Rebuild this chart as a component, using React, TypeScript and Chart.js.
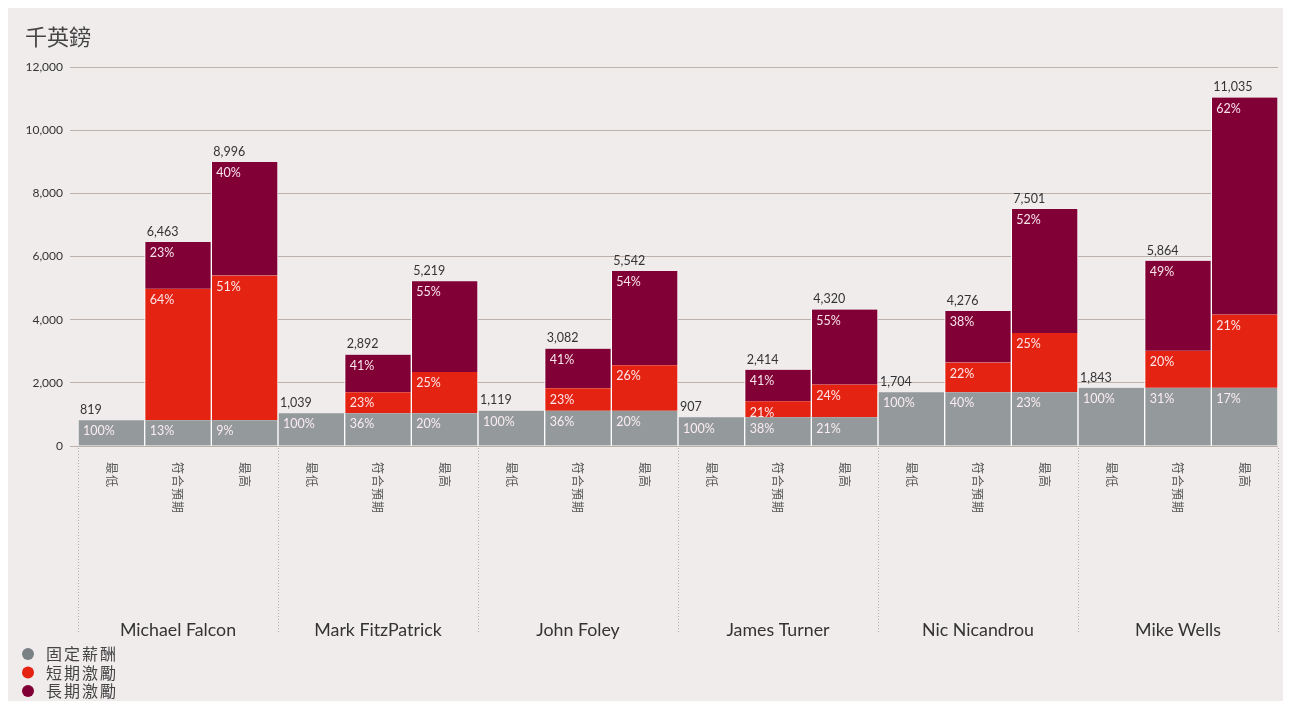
import React, { useEffect, useRef } from "react";
import { Chart, registerables } from "chart.js";
Chart.register(...registerables);

const unitTitle = "千英鎊";
const people = ["Michael Falcon", "Mark FitzPatrick", "John Foley", "James Turner", "Nic Nicandrou", "Mike Wells"];
const scenarios = ["最低", "符合預期", "最高"];
const seriesNames = ["固定薪酬", "短期激勵", "長期激勵"];
const seriesColors = ["#949a9c", "#e42313", "#810036"];
const legendDotColors = ["#798184", "#e42313", "#810036"];

const fixedPay = [819, 819, 819, 1039, 1039, 1039, 1119, 1119, 1119, 907, 907, 907, 1704, 1704, 1704, 1843, 1843, 1843];
const shortTerm = [0, 4158, 4579, 0, 665, 1305, 0, 709, 1441, 0, 507, 1037, 0, 941, 1875, 0, 1173, 2317];
const longTerm = [0, 1486, 3598, 0, 1188, 2875, 0, 1254, 2982, 0, 1000, 2376, 0, 1631, 3922, 0, 2848, 6875];

const totalLabels = ["819", "6,463", "8,996", "1,039", "2,892", "5,219", "1,119", "3,082", "5,542", "907", "2,414", "4,320", "1,704", "4,276", "7,501", "1,843", "5,864", "11,035"];
const fixedPct = ["100%", "13%", "9%", "100%", "36%", "20%", "100%", "36%", "20%", "100%", "38%", "21%", "100%", "40%", "23%", "100%", "31%", "17%"];
const shortPct = ["", "64%", "51%", "", "23%", "25%", "", "23%", "26%", "", "21%", "24%", "", "22%", "25%", "", "20%", "21%"];
const longPct = ["", "23%", "40%", "", "41%", "55%", "", "41%", "54%", "", "41%", "55%", "", "38%", "52%", "", "49%", "62%"];

const LATIN = "Lato, 'Noto Sans CJK TC', sans-serif";
const CJK = "'Noto Sans CJK TC', 'Noto Sans', sans-serif";

export default function App() {
  const ref = useRef<HTMLCanvasElement | null>(null);
  useEffect(() => {
    if (!ref.current) return;
    const labels: string[] = [];
    people.forEach((p) => scenarios.forEach((s) => labels.push(p + "|" + s)));
    const pctLists = [fixedPct, shortPct, longPct];

    const overlay = {
      id: "overlay",
      afterDatasetsDraw(chart: any) {
        const ctx = chart.ctx as CanvasRenderingContext2D;
        const area = chart.chartArea;
        const xs = chart.scales.x;
        ctx.save();
        // percentage labels
        ctx.font = "12.5px " + LATIN;
        ctx.textAlign = "left";
        ctx.textBaseline = "top";
        ctx.fillStyle = "rgba(255,240,244,0.95)";
        for (let d = 0; d < 3; d++) {
          const meta = chart.getDatasetMeta(d);
          meta.data.forEach((el: any, j: number) => {
            const txt = pctLists[d][j];
            if (!txt) return;
            ctx.fillText(txt, el.x - el.width / 2 + 5, el.y + 5);
          });
        }
        // totals
        ctx.font = "12.5px " + LATIN;
        ctx.fillStyle = "#333333";
        ctx.textBaseline = "bottom";
        for (let j = 0; j < labels.length; j++) {
          let topY = Infinity;
          let left = 0;
          for (let d = 0; d < 3; d++) {
            const el: any = chart.getDatasetMeta(d).data[j];
            const v = chart.data.datasets[d].data[j];
            if (v > 0 && el.y < topY) {
              topY = el.y;
              left = el.x - el.width / 2;
            }
          }
          ctx.fillText(totalLabels[j], left + 2, topY - 4);
        }
        // dotted separators
        const catW = (area.right - area.left) / labels.length;
        ctx.strokeStyle = "#b3aba8";
        ctx.lineWidth = 1;
        ctx.setLineDash([1, 2]);
        for (let k = 0; k <= people.length; k++) {
          const x = Math.round(area.left + k * 3 * catW) + 0.5;
          ctx.beginPath();
          ctx.moveTo(x, area.bottom + 2);
          ctx.lineTo(x, 624);
          ctx.stroke();
        }
        ctx.setLineDash([]);
        // rotated scenario labels
        ctx.fillStyle = "#555555";
        ctx.font = "12px " + CJK;
        (ctx as any).letterSpacing = "1px";
        ctx.textAlign = "left";
        ctx.textBaseline = "middle";
        for (let j = 0; j < labels.length; j++) {
          const x = xs.getPixelForValue(j);
          ctx.save();
          ctx.translate(x, area.bottom + 16);
          ctx.rotate(Math.PI / 2);
          ctx.fillText(scenarios[j % 3], 0, 0);
          ctx.restore();
        }
        (ctx as any).letterSpacing = "0px";
        // group names
        ctx.fillStyle = "#333333";
        ctx.font = "17.8px " + LATIN;
        ctx.textAlign = "center";
        ctx.textBaseline = "middle";
        people.forEach((p, k) => {
          const x = area.left + (k * 3 + 1.5) * catW;
          ctx.fillText(p, x, 622);
        });
        // title
        ctx.fillStyle = "#444444";
        ctx.font = "22px " + CJK;
        ctx.textAlign = "left";
        ctx.fillText(unitTitle, 17, 29);
        // legend
        ctx.font = "16px " + CJK;
        (ctx as any).letterSpacing = "2px";
        seriesNames.forEach((n, i) => {
          const y = 646 + i * 18.5;
          ctx.fillStyle = legendDotColors[i];
          ctx.beginPath();
          ctx.arc(20, y, 6, 0, Math.PI * 2);
          ctx.fill();
          ctx.fillStyle = "#444444";
          ctx.fillText(n, 38, y);
        });
        (ctx as any).letterSpacing = "0px";
        ctx.restore();
      },
    };

    const border = { left: 1, right: 1, top: 0, bottom: 0 };
    const chart = new Chart(ref.current, {
      type: "bar",
      data: {
        labels,
        datasets: [
          { label: seriesNames[0], data: fixedPay, backgroundColor: seriesColors[0], borderColor: "#ffffff", borderWidth: border, borderSkipped: false },
          { label: seriesNames[1], data: shortTerm, backgroundColor: seriesColors[1], borderColor: "#ffffff", borderWidth: border, borderSkipped: false },
          { label: seriesNames[2], data: longTerm, backgroundColor: seriesColors[2], borderColor: "#ffffff", borderWidth: border, borderSkipped: false },
        ] as any,
      },
      options: {
        responsive: false,
        animation: false,
        maintainAspectRatio: false,
        layout: { padding: { left: 0, right: 5, top: 59, bottom: 255 } },
        datasets: { bar: { barPercentage: 1, categoryPercentage: 1 } } as any,
        plugins: { legend: { display: false }, tooltip: { enabled: false }, title: { display: false } },
        scales: {
          x: {
            stacked: true,
            grid: { display: false },
            border: { display: false },
            ticks: { display: false },
            afterFit: (s: any) => {
              s.height = 0;
            },
          },
          y: {
            stacked: true,
            min: 0,
            max: 12000,
            border: { display: false },
            grid: { color: "#bdb1ab", tickLength: 8, drawTicks: true, lineWidth: 1 },
            ticks: {
              stepSize: 2000,
              padding: 7,
              color: "#333333",
              font: { family: LATIN, size: 12 },
              callback: (v: any) => Number(v).toLocaleString("en-US"),
            },
            afterFit: (s: any) => {
              s.width = 70;
            },
          },
        },
      },
      plugins: [overlay],
    });
    return () => chart.destroy();
  }, []);

  return (
    <div style={{ width: 1275, height: 693, background: "#f0ecec", position: "relative" }}>
      <canvas ref={ref} width={1275} height={693} style={{ display: "block" }} />
    </div>
  );
}
